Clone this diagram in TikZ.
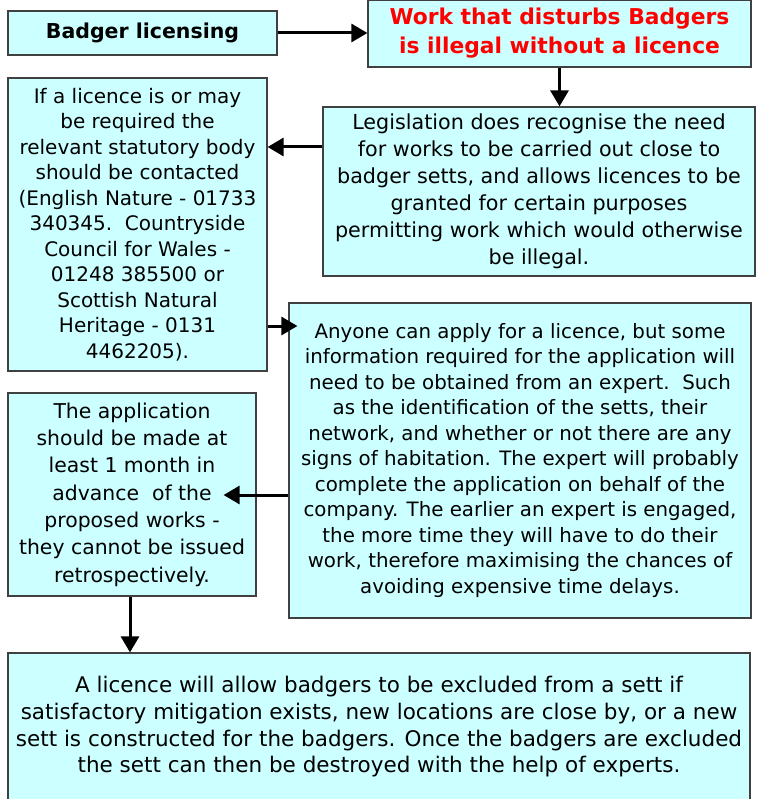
\documentclass[tikz,border=0pt]{standalone}
\usepackage{fontspec}
\setmainfont{DejaVu Sans}
\usetikzlibrary{arrows.meta}
\definecolor{boxfill}{HTML}{CCFFFF}
\definecolor{alert}{HTML}{FF0000}
\tikzset{
        card/.style={draw=black!75, line width=1.2pt, fill=boxfill, align=center, inner sep=0pt},
        link/.style={line width=3pt, -{Triangle[length=16pt,width=18pt]}}
    }

\begin{document}
\begin{tikzpicture}[x=1pt, y=-1pt]
            \useasboundingbox (0,0) rectangle (758,799);
            \node [card, minimum width=269pt, minimum height=44pt, font=\bfseries\fontsize{20.5}{26}\selectfont] (1) at (142.5, 33) {Badger licensing};
            \node [card, minimum width=383pt, minimum height=67pt, text=alert, font=\bfseries\fontsize{21.8}{29}\selectfont] (2) at (559.5, 33.5) {Work that disturbs Badgers\\ is illegal without a licence};
            \node [card, minimum width=432pt, minimum height=169pt, font=\fontsize{20.7}{27}\selectfont] (3) at (539, 191.5) {Legislation does recognise the need\\ for works to be carried out close to\\ badger setts, and allows licences to be\\ granted for certain purposes\\ permitting work which would otherwise\\ be illegal.};
            \node [card, minimum width=259pt, minimum height=293pt, font=\fontsize{20}{25.5}\selectfont] (4) at (137.5, 224.5) {If a licence is or may\\ be required the\\ relevant statutory body\\ should be contacted\\ (English Nature - 01733\\ 340345.\ \ Countryside\\ Council for Wales -\\ 01248 385500 or\\ Scottish Natural\\ Heritage - 0131\\ 4462205).};
            \node [card, minimum width=462pt, minimum height=315pt, font=\fontsize{19.8}{25.5}\selectfont] (5) at (520, 460.5) {Anyone can apply for a licence, but some\\ information required for the application will\\ need to be obtained from an expert.\ \ Such\\ as the identification of the setts, their\\ network, and whether or not there are any\\ signs of habitation. The expert will probably\\ complete the application on behalf of the\\ company. The earlier an expert is engaged,\\ the more time they will have to do their\\ work, therefore maximising the chances of\\ avoiding expensive time delays.};
            \node [card, minimum width=248pt, minimum height=203pt, font=\fontsize{20.4}{27.3}\selectfont] (6) at (132, 494.5) {The application\\ should be made at\\ least 1 month in\\ advance\ \ of the\\ proposed works -\\ they cannot be issued\\ retrospectively.};
            \node [card, minimum width=742pt, minimum height=148pt, font=\fontsize{21.5}{26.7}\selectfont] (7) at (379, 727) {A licence will allow badgers to be excluded from a sett if\\ satisfactory mitigation exists, new locations are close by, or a new\\ sett is constructed for the badgers. Once the badgers are excluded\\ the sett can then be destroyed with the help of experts.};

            \draw [link] (1) -- (1 -| 2.west);
            \draw [link] (2.south) -- (2.south |- 3.north);
            \draw [link] ([yshift=44.5pt]3.west) -- ([yshift=77.5pt]4.east);
            \draw [link] ([yshift=-101.5pt]4.east) -- ([yshift=134.5pt, xshift=9pt]5.west);
            \draw [link] ([yshift=-34.5pt]5.west) -- ([yshift=-0.5pt, xshift=-33pt]6.east);
            \draw [link] ([xshift=-2pt]6.south) -- ([xshift=-2pt]6.south |- 7.north);
        \end{tikzpicture}
\end{document}
